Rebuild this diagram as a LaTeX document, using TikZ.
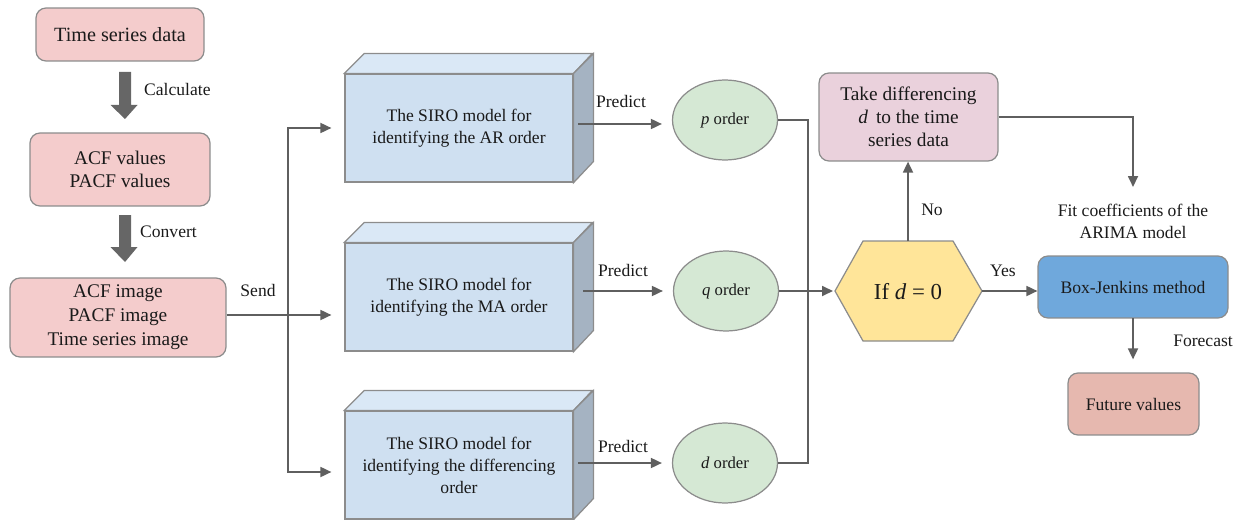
\documentclass[tikz,border=0pt]{standalone}
\usepackage{fontspec}
\setmainfont{Liberation Serif}
\usetikzlibrary{arrows.meta,calc,shapes.geometric}
\definecolor{txt}{HTML}{1A1A1A}
\definecolor{edge}{HTML}{8C8C8C}
\definecolor{conn}{HTML}{5F5F5F}
\definecolor{pinkA}{HTML}{F4CCCC}
\definecolor{mauve}{HTML}{EAD1DC}
\definecolor{blueF}{HTML}{CFE0F1}
\definecolor{blueT}{HTML}{DAE8F6}
\definecolor{blueS}{HTML}{A5B3C2}
\definecolor{greenE}{HTML}{D5E8D4}
\definecolor{yellowH}{HTML}{FFE599}
\definecolor{blueBJ}{HTML}{6FA8DC}
\definecolor{salmon}{HTML}{E6B8AF}
\definecolor{blockar}{HTML}{666666}
\tikzset{
  rbox/.style={draw=edge, line width=0.7pt, rounded corners=0.2cm, align=center, text=txt},
  front/.style={draw=edge, line width=0.7pt, fill=blueF, minimum width=4.56cm, minimum height=2.16cm, align=center, text=txt, font=\fontsize{10}{12.5}\selectfont},
  ell/.style={draw=edge, line width=0.7pt, fill=greenE, ellipse, minimum width=2.1cm, minimum height=1.6cm, text=txt, font=\fontsize{9.5}{11}\selectfont},
  lbl/.style={text=txt, font=\fontsize{10}{12.5}\selectfont, align=center},
  conline/.style={draw=conn, line width=1pt},
  arr/.style={conline, -{Triangle[length=0.22cm, width=0.2cm]}},
}
\newcommand{\mycuboid}[1]{%
  \fill[blueT, draw=edge, line width=0.7pt] (#1.north west) -- ++(20,-20) -- ++(228,0) -- ($(#1.north east)$) -- cycle;
  \fill[blueS, draw=edge, line width=0.7pt] (#1.north east) -- ++(20,-20) -- ++(0,108) -- ($(#1.south east)$) -- cycle;
}
\begin{document}
\begin{tikzpicture}[x=0.02cm, y=-0.02cm]
\useasboundingbox (0,0) rectangle (1243,520);

% left column
\node[rbox, fill=pinkA, minimum width=3.36cm, minimum height=1.06cm, font=\fontsize{11.5}{14}\selectfont] (ts) at (120,34.5) {Time series data};
\node[rbox, fill=pinkA, minimum width=3.6cm, minimum height=1.46cm, font=\fontsize{11}{13.5}\selectfont] (acf) at (120,169.5) {ACF values\\PACF values};
\node[rbox, fill=pinkA, minimum width=4.32cm, minimum height=1.58cm, font=\fontsize{11}{13.6}\selectfont] (img) at (118,317.5) {ACF image\\PACF image\\Time series image};

% block arrows
\fill[blockar] (119,72) -- (131,72) -- (131,105) -- (137.5,105) -- (125,119) -- (110.5,105) -- (119,105) -- cycle;
\fill[blockar] (119,215) -- (131,215) -- (131,247) -- (137.5,247) -- (125,262) -- (110.5,247) -- (119,247) -- cycle;
\node[lbl, anchor=west] (calc) at (138,89) {Calculate};
\node[lbl, anchor=west] (conv) at (134,232) {Convert};
\node[lbl] (send) at (258,290) {Send};

% cuboids
\node[front] (c1) at (459,128) {The SIRO model for\\identifying the AR order};
\node[front] (c2) at (459,297) {The SIRO model for\\identifying the MA order};
\node[front] (c3) at (459,465) {The SIRO model for\\identifying the differencing\\order};
\mycuboid{c1}
\mycuboid{c2}
\mycuboid{c3}

% send connectors
\coordinate (br) at (288,315);
\draw[conline] (img.east |- br) -- (br);
\draw[arr] (br) -- ($(c2.west |- br)+(-13,0)$);
\draw[arr] (br) |- ($(c1.west)+(-13,0)$);
\draw[arr] (br) |- ($(c3.west |- 0,472)+(-13,0)$);

% ellipses
\node[ell] (p) at (725,120) {\textit{p} order};
\node[ell] (q) at (726,291) {\textit{q} order};
\node[ell] (d) at (725,463) {\textit{d} order};

\coordinate (o1) at (578,124);
\coordinate (o2) at (583,291);
\coordinate (o3) at (578,463);
\draw[arr, shorten >=0.2cm] (o1) -- (o1 -| p.west);
\draw[arr, shorten >=0.2cm] (o2) -- (o2 -| q.west);
\draw[arr, shorten >=0.2cm] (o3) -- (o3 -| d.west);
\node[lbl] (pr1) at (621,101) {Predict};
\node[lbl] (pr2) at (623,270) {Predict};
\node[lbl] (pr3) at (623,446) {Predict};

% hexagon
\coordinate (hL) at (835,291);
\coordinate (hR) at (982,291);
\coordinate (hT) at (908,241);
\fill[yellowH, draw=edge, line width=0.7pt] (835,291) -- (863,241) -- (953,241) -- (982,291) -- (953,341) -- (863,341) -- cycle;
\node[text=txt, font=\fontsize{13}{15}\selectfont] (hex) at (908,292) {If \textit{d} = 0};

\coordinate (mj) at (808,291);
\draw[conline] (p.east) -| (mj);
\draw[conline] (d.east) -| (mj);
\draw[arr] (q.east) -- ($(hL)+(-2,0)$);

% take differencing
\node[rbox, fill=mauve, minimum width=3.58cm, minimum height=1.76cm, font=\fontsize{11}{13.2}\selectfont] (td) at (908.5,117) {Take differencing\\\textit{d}\, to the time\\series data};
\draw[arr] (hT) -- (td.south -| hT);
\node[lbl] (no) at (932,210) {No};

% fit coefficients
\coordinate (fc) at (1133,187);
\draw[arr] (td.east) -| (fc);
\node[lbl] (fit) at (1133,221) {Fit coefficients of the\\ARIMA model};

% Box-Jenkins
\node[rbox, fill=blueBJ, minimum width=3.8cm, minimum height=1.24cm, font=\fontsize{10}{12}\selectfont] (bj) at (1133,287) {Box-Jenkins method};
\draw[arr] (hR) -- (bj.west |- hR);
\node[lbl] (yes) at (1003,271) {Yes};

\node[rbox, fill=salmon, minimum width=2.62cm, minimum height=1.24cm, font=\fontsize{10}{12}\selectfont] (fut) at (1133.5,404) {Future values};
\coordinate (bjs) at (1133,318);
\draw[arr, shorten >=0.26cm] (bjs) -- (bjs |- fut.north);
\node[lbl] (fcst) at (1203,341) {Forecast};
\end{tikzpicture}
\end{document}
